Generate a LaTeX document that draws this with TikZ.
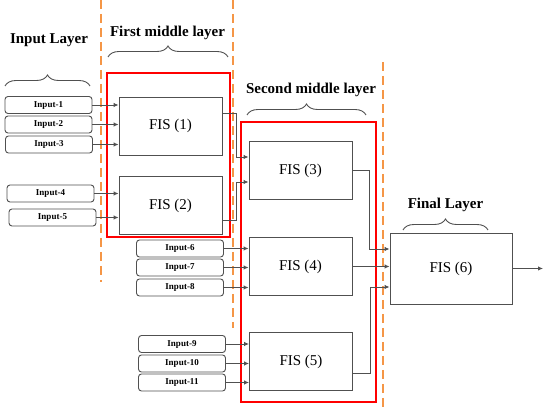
\documentclass[tikz,border=0pt]{standalone}
\usepackage{fontspec}
\setmainfont{Liberation Serif}
\usepackage{tikz}
\usetikzlibrary{positioning,arrows.meta,calc,decorations.pathreplacing}

\definecolor{layerorange}{RGB}{245,150,70}
\definecolor{boxgray}{RGB}{80,80,80}

\begin{document}
\begin{tikzpicture}[x=1pt,y=-1pt,
  inbox/.style={draw=boxgray, rounded corners=3pt, line width=0.9pt, minimum width=87pt, minimum height=17pt, inner sep=0pt, font={\fontsize{9}{10}\selectfont\bfseries}},
  fisbox/.style={draw=boxgray, line width=0.9pt, minimum width=103pt, minimum height=58pt, inner sep=0pt, font={\fontsize{15}{17}\selectfont}},
  title/.style={font={\fontsize{15}{17}\selectfont\bfseries}},
  arr/.style={draw=boxgray, line width=0.9pt, -{Latex[length=5pt,width=4.5pt]}},
  layerline/.style={draw=layerorange, line width=1.4pt, dash pattern=on 9pt off 5pt},
  redbox/.style={draw=red, line width=1.8pt},
  layerbrace/.style={draw=boxgray, line width=0.9pt, decorate, decoration={brace, amplitude=11pt}}
]
\useasboundingbox (0,0) rectangle (550,411);

% layer separators
\draw[layerline] (101,0) -- (101,282);
\draw[layerline] (233,0) -- (233,328);
\draw[layerline] (383,62) -- (383,411);

% titles and braces
\node[title] (tin) at (49,40) {Input Layer};
\node[title] (tfirst) at (167.5,33) {First middle layer};
\node[title] (tsecond) at (311,90) {Second middle layer};
\node[title] (tfinal) at (445.5,205) {Final Layer};
\draw[layerbrace] (5,86) -- (90,86);
\draw[layerbrace] (108,57) -- (228,57);
\draw[layerbrace] (247,115) -- (366,115);
\draw[layerbrace] (403,230) -- (488,230);

% red frames
\draw[redbox] (107,73) rectangle (230,237);
\draw[redbox] (241,122) rectangle (376,402);

% inputs
\node[inbox] (in1) at (48.5,105) {Input-1};
\node[inbox] (in2) at (48.5,124.5) {Input-2};
\node[inbox] (in3) at (49,144.5) {Input-3};
\node[inbox] (in4) at (50.5,193.5) {Input-4};
\node[inbox] (in5) at (52.5,217.5) {Input-5};
\node[inbox] (in6) at (180,248.5) {Input-6};
\node[inbox] (in7) at (180,267.5) {Input-7};
\node[inbox] (in8) at (180,287.5) {Input-8};
\node[inbox] (in9) at (182,344) {Input-9};
\node[inbox] (in10) at (182,363.5) {Input-10};
\node[inbox] (in11) at (182,382.5) {Input-11};

% fuzzy inference systems
\node[fisbox] (fis1) at (170.5,126) {FIS (1)};
\node[fisbox] (fis2) at (170.5,205.5) {FIS (2)};
\node[fisbox] (fis3) at (300.5,170.5) {FIS (3)};
\node[fisbox] (fis4) at (300.5,266.5) {FIS (4)};
\node[fisbox] (fis5) at (301,361.5) {FIS (5)};
\node[fisbox, minimum width=122pt, minimum height=71pt] (fis6) at (451,268.5) {FIS (6)};
\coordinate (out) at (543,268.5);

% input arrows
\foreach \i in {1,2,3} \draw[arr] (in\i.east) -- (in\i.east -| fis1.west);
\foreach \i in {4,5} \draw[arr] (in\i.east) -- (in\i.east -| fis2.west);
\foreach \i in {6,7,8} \draw[arr] (in\i.east) -- (in\i.east -| fis4.west);
\foreach \i in {9,10,11} \draw[arr] (in\i.east) -- (in\i.east -| fis5.west);

% between layers
\draw[arr] ([yshift=13pt]fis1.east) -- ++(14,0) |- ([yshift=13.5pt]fis3.west);
\draw[arr] ([yshift=-14.5pt]fis2.east) -- ++(14,0) |- ([yshift=-11.5pt]fis3.west);
\draw[arr] (fis3.east) -- ++(17,0) |- ([yshift=19.5pt]fis6.west);
\draw[arr] (fis4.east) -- (fis4.east -| fis6.west);
\draw[arr] ([yshift=-11.5pt]fis5.east) -- ++(17,0) |- ([yshift=-18.5pt]fis6.west);
\draw[arr] (fis6.east) -- (out);
\end{tikzpicture}
\end{document}
